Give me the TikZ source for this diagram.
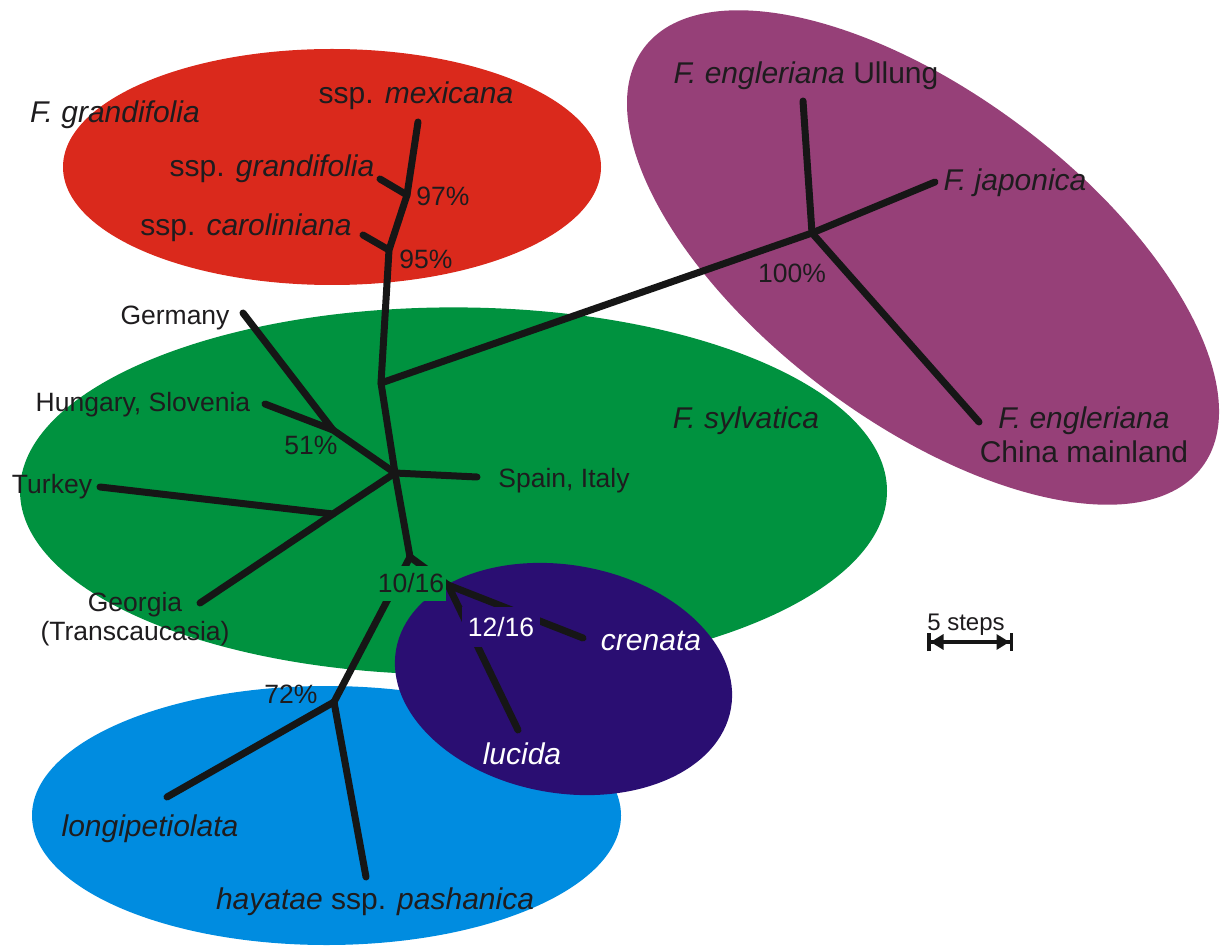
\documentclass[tikz,border=0pt]{standalone}
\usepackage{fontspec}
\setmainfont{Liberation Sans}
\usetikzlibrary{arrows.meta}
\definecolor{cred}{RGB}{218,41,28}
\definecolor{cgreen}{RGB}{0,146,63}
\definecolor{cpurple}{RGB}{150,64,120}
\definecolor{cblue}{RGB}{0,140,224}
\definecolor{cnavy}{RGB}{42,14,114}
\definecolor{tcol}{RGB}{30,28,30}
\definecolor{lcol}{RGB}{22,22,22}
\tikzset{
  branch/.style={draw=lcol, line width=7pt, line cap=round, line join=round},
  big/.style={font=\fontsize{30}{34}\selectfont, text=tcol, inner sep=0pt, text height=0.74em, text depth=0.2em, yshift=-8pt},
  small/.style={font=\fontsize{26.5}{29}\selectfont, text=tcol, inner sep=0pt, text height=0.74em, text depth=0.2em, yshift=-7pt},
  boxed/.style={font=\fontsize{26.5}{29}\selectfont, inner sep=0pt, text height=19pt, text depth=0pt},
  wtext/.style={text=white}
}
\begin{document}
\begin{tikzpicture}[x=1pt,y=-1pt]
\useasboundingbox (0,0) rectangle (1220,949);
% group ellipses
\begin{scope}[shift={(923,257.5)}, rotate=-36.9]
  \fill[cpurple] (0,0) ellipse [x radius=349, y radius=164];
\end{scope}
\fill[cgreen] (453.5,491) ellipse [x radius=433.5, y radius=183.6];
\fill[cred] (332,167) ellipse [x radius=269, y radius=118];
\fill[cblue] (326.5,815.5) ellipse [x radius=294.5, y radius=129.5];
\begin{scope}[shift={(563.5,679)}, rotate=-10]
  \fill[cnavy] (0,0) ellipse [x radius=170, y radius=114];
\end{scope}

% tree vertices and tips
\coordinate (mexT) at (418,122);
\coordinate (n97) at (407,195);
\coordinate (grandT) at (380,179);
\coordinate (n95) at (389,250);
\coordinate (carT) at (363,235);
\coordinate (nAs) at (381,383);
\coordinate (nJ) at (812,233);
\coordinate (ullT) at (803,101);
\coordinate (japT) at (935,182);
\coordinate (chiT) at (979,422);
\coordinate (nC) at (395,473);
\coordinate (n51) at (333,430);
\coordinate (gerT) at (243,313);
\coordinate (hunT) at (265,404);
\coordinate (spaT) at (477,477);
\coordinate (nTG) at (333,514);
\coordinate (turT) at (100,487);
\coordinate (geoT) at (200,603);
\coordinate (n10) at (410,557);
\coordinate (n12) at (448,585);
\coordinate (creT) at (583,638);
\coordinate (lucT) at (518,730);
\coordinate (n72) at (334,702);
\coordinate (lonT) at (167,797);
\coordinate (hayT) at (366,877);

% branches
\draw[branch] (mexT) -- (n97) -- (n95) -- (nAs) -- (nC) -- (n10);
\draw[branch] (grandT) -- (n97);
\draw[branch] (carT) -- (n95);
\draw[branch] (nAs) -- (nJ);
\draw[branch] (ullT) -- (nJ);
\draw[branch] (nJ) -- (japT);
\draw[branch] (nJ) -- (chiT);
\draw[branch] (gerT) -- (n51);
\draw[branch] (hunT) -- (n51) -- (nC);
\draw[branch] (nC) -- (spaT);
\draw[branch] (nC) -- (nTG) -- (geoT);
\draw[branch] (turT) -- (nTG);
\draw[branch] (n10) -- (n72);
\draw[branch] (n72) -- (lonT);
\draw[branch] (n72) -- (hayT);
\draw[branch] (n10) -- (n12);
\draw[branch] (n12) -- (creT);
\draw[branch] (n12) -- (lucT);

% labels
\node[big] (lFgr) at (115,112) {\itshape F. grandifolia};
\node[big] (lmex) at (416,93) {ssp. \textit{mexicana}};
\node[big] (lgra) at (272,166) {ssp. \textit{grandifolia}};
\node[big] (lcar) at (246,225) {ssp. \textit{caroliniana}};
\node[small] (l97) at (443,196) {97\%};
\node[small] (l95) at (426,259) {95\%};
\node[small] (lger) at (175,315) {Germany};
\node[small] (lhun) at (143,402) {Hungary, Slovenia};
\node[small] (l51) at (311,445) {51\%};
\node[small] (ltur) at (52,484) {Turkey};
\node[small] (lspa) at (564,478) {Spain, Italy};
\node[small] (lgeo) at (135,602) {Georgia};
\node[small] (ltra) at (135,631) {(Transcaucasia)};
\node[big] (lsyl) at (746,418) {\itshape F. sylvatica};
\node[big] (lull) at (806,73) {\textit{F. engleriana} Ullung};
\node[big] (ljap) at (1015,180) {\itshape F. japonica};
\node[small] (l100) at (792,273) {100\%};
\node[big] (leng) at (1084,418) {\itshape F. engleriana};
\node[big] (lchi) at (1084,452) {China mainland};
\node[boxed, text=tcol, fill=cgreen, inner xsep=1.5pt, minimum height=35pt] (l10) at (411,583) {10/16};
\node[boxed, wtext, fill=cnavy, minimum width=78pt, minimum height=40pt] (l12) at (501,627) {12/16};
\node[big, wtext] (lcre) at (651,640) {\itshape crenata};
\node[big, wtext] (lluc) at (522,754) {\itshape lucida};
\node[small] (l72) at (291,694) {72\%};
\node[big] (llon) at (150,826) {\itshape longipetiolata};
\node[big] (lhay) at (375,899) {\textit{hayatae} ssp. \textit{pashanica}};

% scale bar
\node[font=\fontsize{24}{28}\selectfont, text=tcol, inner sep=0pt, text height=0.74em, text depth=0.2em, yshift=-6pt] (lsteps) at (966,622) {5 steps};
\coordinate (sbL) at (927,642);
\coordinate (sbR) at (1013,642);
\draw[draw=lcol, line width=4pt, arrows={Bar[width=18pt,line width=3.5pt]Triangle[length=13pt,width=15pt]-Triangle[length=13pt,width=15pt]Bar[width=18pt,line width=3.5pt]}] (sbL) -- (sbR);
\end{tikzpicture}
\end{document}
